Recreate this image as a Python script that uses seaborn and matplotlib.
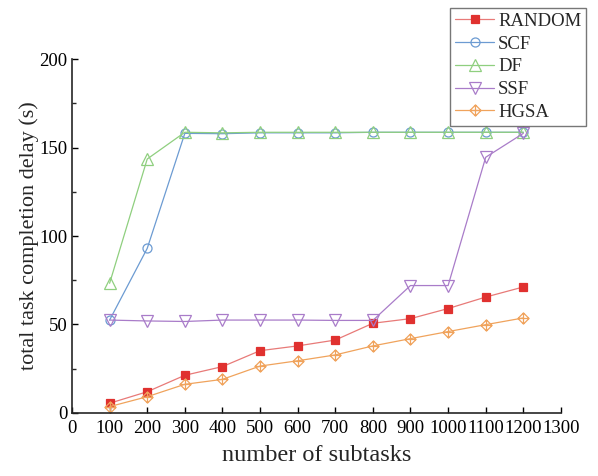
import numpy as np
import pandas as pd
import seaborn as sns
import matplotlib.pyplot as plt
from matplotlib.path import Path

subtasks = [100, 200, 300, 400, 500, 600, 700, 800, 900, 1000, 1100, 1200]
random_delay = [5.5, 12.0, 21.3, 26.2, 35.2, 37.9, 41.2, 50.7, 53.3, 59.0, 65.5, 71.2]
scf_delay = [52.5, 93.0, 158.0, 157.8, 158.3, 158.3, 158.3, 158.6, 158.6, 158.6, 158.6, 158.6]
df_delay = [73.3, 143.5, 158.6, 158.3, 158.6, 158.6, 158.6, 158.6, 158.6, 158.6, 158.6, 158.6]
ssf_delay = [52.5, 52.0, 51.7, 52.5, 52.5, 52.5, 52.3, 52.3, 72.0, 72.0, 144.5, 158.0]
hgsa_delay = [3.6, 9.2, 16.2, 19.0, 26.5, 29.5, 32.8, 37.9, 42.0, 46.0, 49.9, 53.7]

# diamond with a cross inside
dia = Path([(0, 1), (1, 0), (0, -1), (-1, 0), (0, 1), (0, 1), (0, -1), (-1, 0), (1, 0)],
           [Path.MOVETO, Path.LINETO, Path.LINETO, Path.LINETO, Path.CLOSEPOLY,
            Path.MOVETO, Path.LINETO, Path.MOVETO, Path.LINETO])

series = [
    ('RANDOM', random_delay, '#e0312f', '#e87a78', 's', True, 5.5),
    ('SCF', scf_delay, '#6c9bd2', '#6c9bd2', 'o', False, 6.5),
    ('DF', df_delay, '#8fcf7f', '#8fcf7f', '^', False, 8),
    ('SSF', ssf_delay, '#a97cc9', '#a97cc9', 'v', False, 8),
    ('HGSA', hgsa_delay, '#f0a35c', '#f0a35c', dia, False, 8),
]

sns.set_style('ticks')
plt.rcParams['font.family'] = ['Liberation Serif', 'DejaVu Serif']

fig = plt.figure(figsize=(5.98, 4.76), dpi=100)
ax = fig.add_axes([0.1204, 0.1324, 0.8176, 0.7436])

for name, vals, mc, lc, mk, filled, ms in series:
    d = pd.DataFrame({'x': subtasks, 'y': vals})
    sns.lineplot(data=d, x='x', y='y', ax=ax, color=lc, lw=0.9, marker=mk,
                 markersize=ms, markeredgecolor=mc, markeredgewidth=0.9,
                 markerfacecolor=mc if filled else 'none', label=name)

ax.set_xlim(0, 1300)
ax.set_ylim(0, 200)
ax.set_xticks(np.arange(0, 1301, 100))
ax.set_yticks([0, 50, 100, 150, 200])
ax.set_yticks([25, 75, 125, 175], minor=True)
ax.tick_params(direction='in', labelsize=13.5, width=1, length=4, colors='black')
ax.tick_params(axis='x', pad=5)
ax.tick_params(which='minor', direction='in', length=3, width=1)
for s in ['top', 'right']:
    ax.spines[s].set_visible(False)
for s in ['left', 'bottom']:
    ax.spines[s].set_linewidth(1.2)
ax.set_xlabel('number of subtasks', fontsize=17.5, labelpad=6)
ax.set_ylabel('total task completion delay (s)', fontsize=16, labelpad=0)

ax.legend(loc='upper right', bbox_to_anchor=(586 / 598, 1 - 8 / 476),
          bbox_transform=fig.transFigure, fontsize=13.5, frameon=True,
          fancybox=False, edgecolor='#555555', handlelength=2.1,
          handletextpad=0.2, labelspacing=0.3, borderpad=0.25,
          borderaxespad=0)

fig.savefig('out.png', dpi=100)
